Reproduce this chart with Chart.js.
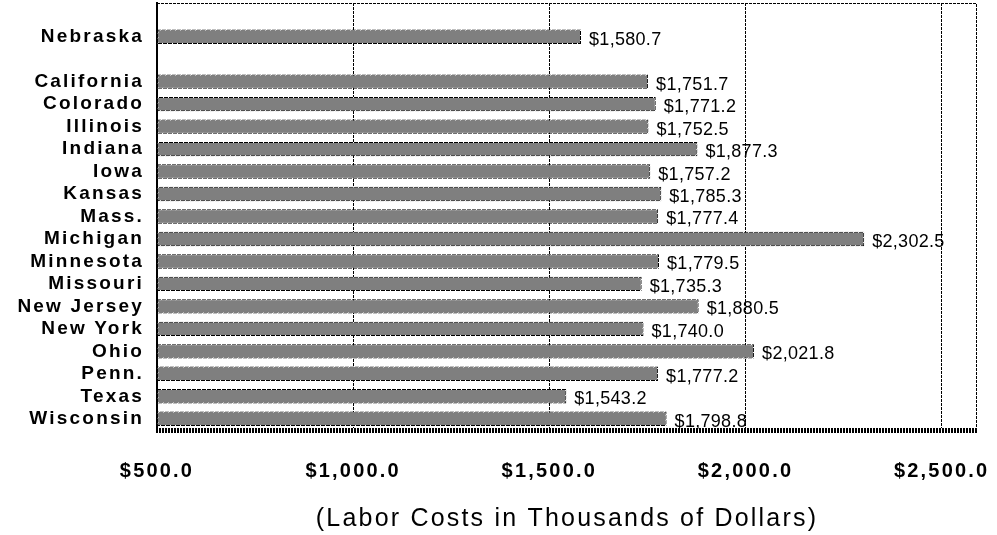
<!DOCTYPE html>
<html>
<head>
<meta charset="utf-8">
<script src="https://cdn.jsdelivr.net/npm/chart.js@4/dist/chart.umd.min.js"></script>
<style>
  html, body { margin: 0; padding: 0; background: #fff; }
  #wrap { width: 997px; height: 535px; position: relative; }
</style>
</head>
<body>
<div id="wrap"><canvas id="laborChart"></canvas></div>
<script>
// states, blank slots keep the gaps seen in the original
var states = ['', 'Nebraska', '', 'California', 'Colorado', 'Illinois', 'Indiana', 'Iowa', 'Kansas',
  'Mass.', 'Michigan', 'Minnesota', 'Missouri', 'New Jersey', 'New York', 'Ohio', 'Penn.', 'Texas', 'Wisconsin'];
// labor costs, thousands of dollars
var laborCosts = [null, 1580.7, null, 1751.7, 1771.2, 1752.5, 1877.3, 1757.2, 1785.3,
  1777.4, 2302.5, 1779.5, 1735.3, 1880.5, 1740.0, 2021.8, 1777.2, 1543.2, 1798.8];
// x axis ticks
var xTicks = [500, 1000, 1500, 2000, 2500];
var axisMin = 500;
var axisMax = 2590;
var axisTitle = '(Labor Costs in Thousands of Dollars)';

var FONT = '"Liberation Sans", Arial, sans-serif';

function money(v) {
  return '$' + v.toLocaleString('en-US', { minimumFractionDigits: 1, maximumFractionDigits: 1 });
}

// little pixel patterns for the dotted look of the old print
function makePattern(w, h, isDark) {
  var c = document.createElement('canvas');
  c.width = w; c.height = h;
  var g = c.getContext('2d');
  for (var x = 0; x < w; x++) {
    for (var y = 0; y < h; y++) {
      g.fillStyle = isDark(x, y) ? '#000' : '#fff';
      g.fillRect(x, y, 1, 1);
    }
  }
  return g.createPattern(c, 'repeat');
}
var dotted = makePattern(5, 5, function (x, y) { return (x + y) % 5 !== 0; });
var hatch = makePattern(3, 1, function (x) { return x < 2; });

// text in the original looks stretched, fake it with letter spacing
var spacingPlugin = {
  id: 'spacing',
  beforeDraw: function (chart) { chart.ctx.letterSpacing = '2.2px'; },
  beforeDatasetsDraw: function (chart) { chart.ctx.letterSpacing = '0px'; }
};

// value labels right of every bar
var valueLabels = {
  id: 'valueLabels',
  afterDatasetsDraw: function (chart) {
    var ctx = chart.ctx;
    var meta = chart.getDatasetMeta(0);
    ctx.save();
    ctx.letterSpacing = '0.3px';
    ctx.font = '18px ' + FONT;
    ctx.fillStyle = '#000';
    ctx.textAlign = 'left';
    ctx.textBaseline = 'middle';
    meta.data.forEach(function (bar, i) {
      var v = laborCosts[i];
      if (v == null) return;
      ctx.fillText(money(v), bar.x + 8, bar.y + 3);
    });
    ctx.restore();
  }
};

// dashed top and right edge of the plot box
var frame = {
  id: 'frame',
  afterDraw: function (chart) {
    var a = chart.chartArea;
    var ctx = chart.ctx;
    ctx.save();
    ctx.strokeStyle = '#000';
    ctx.lineWidth = 1;
    ctx.setLineDash([3, 1]);
    ctx.beginPath();
    ctx.moveTo(a.left, a.top + 0.5);
    ctx.lineTo(a.right - 0.5, a.top + 0.5);
    ctx.lineTo(a.right - 0.5, a.bottom);
    ctx.stroke();
    ctx.restore();
  }
};

new Chart(document.getElementById('laborChart'), {
  type: 'bar',
  data: {
    labels: states,
    datasets: [{
      data: laborCosts,
      base: axisMin,
      backgroundColor: '#7f7f7f',
      borderColor: dotted,
      borderWidth: 1,
      borderSkipped: false,
      barPercentage: 0.64,
      categoryPercentage: 1.0
    }]
  },
  options: {
    indexAxis: 'y',
    responsive: true,
    maintainAspectRatio: false,
    animation: false,
    layout: { padding: { top: 3, right: 20, left: 0, bottom: 0 } },
    plugins: {
      legend: { display: false },
      tooltip: { enabled: false }
    },
    scales: {
      x: {
        min: axisMin,
        max: axisMax,
        grid: { color: '#000', lineWidth: 1, drawTicks: false },
        border: { display: true, color: hatch, width: 5, dash: [3, 1] },
        afterBuildTicks: function (s) {
          s.ticks = xTicks.map(function (v) { return { value: v }; });
        },
        ticks: {
          padding: 29,
          color: '#000',
          autoSkip: false,
          maxRotation: 0,
          font: { family: FONT, size: 20, weight: 'bold' },
          callback: function (v) { return money(v); }
        },
        title: {
          display: true,
          text: axisTitle,
          color: '#000',
          font: { family: FONT, size: 25 },
          padding: { top: 0, bottom: 1 }
        },
        afterFit: function (s) {
          s.height = 105;
          s.paddingLeft = 0;
          s.paddingRight = 0;
        }
      },
      y: {
        grid: { display: false, drawTicks: false },
        border: { display: true, color: '#000', width: 2 },
        ticks: {
          padding: 13,
          color: '#000',
          autoSkip: false,
          font: { family: FONT, size: 19, weight: 'bold' }
        },
        afterFit: function (s) {
          s.width = 157;
          s.paddingTop = 0;
          s.paddingBottom = 0;
        }
      }
    }
  },
  plugins: [spacingPlugin, valueLabels, frame]
});
</script>
</body>
</html>
